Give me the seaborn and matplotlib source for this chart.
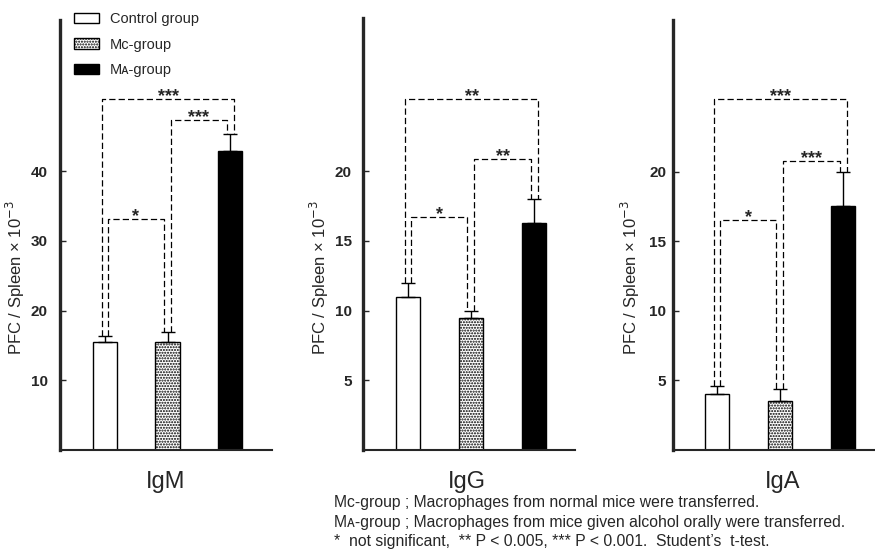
import matplotlib
matplotlib.use("Agg")
import matplotlib.pyplot as plt
import matplotlib.patches as mpatches
import seaborn as sns
import pandas as pd
import numpy as np

sns.set_style("ticks")
plt.rcParams['font.family'] = ['Liberation Sans', 'DejaVu Sans']
plt.rcParams['hatch.linewidth'] = 1.0

# ---------------- data ----------------
groups = ['Control group', 'M\u1d04-group', 'M\u1d00-group']
panels = ['IgM', 'IgG', 'IgA']

igm_mean = [15.5, 15.5, 42.9]
igm_err_top = [16.4, 16.9, 45.3]
igg_mean = [11.0, 9.5, 16.3]
igg_err_top = [12.0, 10.0, 18.0]
iga_mean = [4.0, 3.5, 17.55]
iga_err_top = [4.57, 4.35, 20.0]

igm_ticks = [10, 20, 30, 40]
igg_ticks = [5, 10, 15, 20]
iga_ticks = [5, 10, 15, 20]

bracket_pairs = [(0, 1), (1, 2), (0, 2)]
igm_bracket_y = [33.1, 47.3, 50.4]
igg_bracket_y = [16.7, 20.85, 25.2]
iga_bracket_y = [16.5, 20.8, 25.2]
igm_sig = ['*', '***', '***']
igg_sig = ['*', '**', '**']
iga_sig = ['*', '***', '***']

footnotes = [
    'M\u1d04-group ; Macrophages from normal mice were transferred.',
    'M\u1d00-group ; Macrophages from mice given alcohol orally were transferred.',
    '*  not significant,  ** P < 0.005, *** P < 0.001.  Student\u2019s  t-test.',
]
ylabel = 'PFC / Spleen \u00d7 10$^{-3}$'

means = [igm_mean, igg_mean, iga_mean]
err_tops = [igm_err_top, igg_err_top, iga_err_top]
ticks = [igm_ticks, igg_ticks, iga_ticks]
bracket_ys = [igm_bracket_y, igg_bracket_y, iga_bracket_y]
sigs = [igm_sig, igg_sig, iga_sig]

# ---------------- layout (pixels) ----------------
W, H = 875, 550
fig = plt.figure(figsize=(W / 100, H / 100), dpi=100)

# left, right, top, bottom in pixels
ax_px = [(60, 272, 20, 450), (363, 575, 18, 450), (673, 875, 20, 450)]
ylims = [61.7, 31.0, 30.9]
xlims = [(-0.72, 2.67), (-0.714, 2.65), (-0.70, 2.51)]
label_x = [-0.156, -0.15, -0.155]
tick_pad = [9, 8, 5]
panel_label_x = [0.50, 0.49, 0.545]

fills = ['white', 'white', 'black']
hatches = [None, '......', None]

# leg offsets for (left, right) of each bracket pair
leg_off = [(0.05, -0.06), (0.05, -0.05), (-0.05, 0.07)]

for i in range(3):
    l, r, t, b = ax_px[i]
    ax = fig.add_axes([l / W, (H - b) / H, (r - l) / W, (b - t) / H])
    df = pd.DataFrame({'group': groups, 'value': means[i]})
    sns.barplot(data=df, x='group', y='value', ax=ax, width=0.39,
                errorbar=None, color='white', saturation=1)
    for j, p in enumerate(ax.patches):
        p.set_facecolor(fills[j])
        p.set_edgecolor('black')
        p.set_linewidth(1.0)
        if hatches[j]:
            p.set_hatch(hatches[j])
    x = np.arange(3)
    m = np.array(means[i])
    et = np.array(err_tops[i])
    ax.errorbar(x, m, yerr=[np.zeros(3), et - m], fmt='none', ecolor='black',
                elinewidth=1.0, capsize=5, capthick=1.0, zorder=3)

    # significance brackets
    for k, (a, c) in enumerate(bracket_pairs):
        yb = bracket_ys[i][k]
        xa = a + leg_off[k][0]
        xc = c + leg_off[k][1]
        ax.plot([xa, xa, xc, xc], [et[a], yb, yb, et[c]], color='black',
                lw=0.9, linestyle=(0, (5, 2.5)), zorder=4, clip_on=False)
        ax.annotate(sigs[i][k], xy=((xa + xc) / 2, yb), xytext=(0, -1.5),
                    textcoords='offset points', ha='center', va='baseline',
                    fontsize=13, fontweight='bold')

    ax.set_xlim(*xlims[i])
    ax.set_ylim(0, ylims[i])
    ax.set_xticks([])
    ax.set_xlabel('')
    ax.set_yticks(ticks[i])
    ax.set_yticklabels([str(v) for v in ticks[i]], fontsize=11, fontweight='bold')
    ax.tick_params(axis='y', direction='in', length=4, width=1, pad=tick_pad[i])
    ax.set_ylabel(ylabel, fontsize=12)
    ax.yaxis.set_label_coords(label_x[i], 0.40)
    sns.despine(ax=ax, top=True, right=True)
    ax.spines['left'].set_linewidth(2.4)
    ax.spines['bottom'].set_linewidth(1.5)
    ax.patch.set_alpha(0)
    ax.text(panel_label_x[i], -0.074, panels[i], transform=ax.transAxes, ha='center',
            va='center', fontsize=17)

# legend
handles = [mpatches.Patch(facecolor=fills[j], edgecolor='black', hatch=hatches[j],
                          linewidth=1.0) for j in range(3)]
fig.legend(handles, groups, loc='upper left', bbox_to_anchor=(74 / W, 1 - 12 / H),
           frameon=False, fontsize=10.5, handlelength=1.7, handleheight=0.7,
           labelspacing=0.8, handletextpad=0.75, borderpad=0, borderaxespad=0)

# footnotes
for y, txt in zip([507, 527, 546], footnotes):
    fig.text(334 / W, 1 - y / H, txt, ha='left', va='baseline', fontsize=11.3)

fig.savefig('out.png', dpi=100)
